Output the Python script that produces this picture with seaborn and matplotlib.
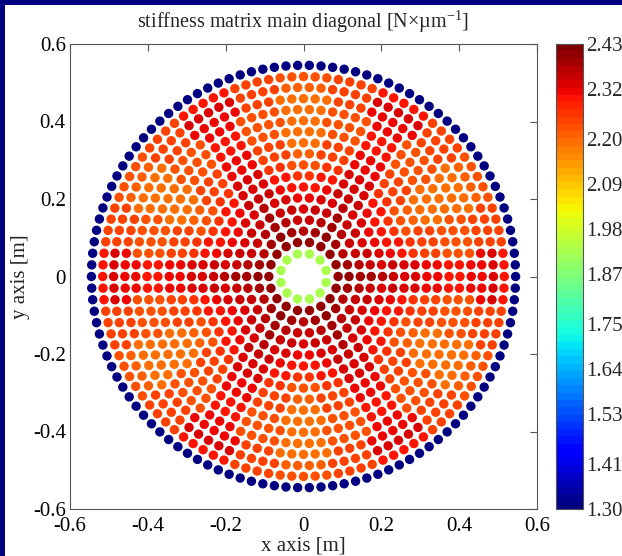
import numpy as np
import pandas as pd
import matplotlib
matplotlib.use("Agg")
import matplotlib.pyplot as plt
import seaborn as sns
from matplotlib.colors import Normalize
from matplotlib.cm import ScalarMappable
from matplotlib.patches import Rectangle

# ---- data ----
ring_radius = [0.060, 0.089, 0.117, 0.146, 0.174, 0.203, 0.231, 0.260, 0.288,
               0.317, 0.345, 0.374, 0.402, 0.431, 0.459, 0.488, 0.516, 0.545]
ring_count = [12, 18, 24, 30, 36, 42, 48, 54, 60, 66, 72, 78, 84, 90, 96, 102, 108, 114]
ring_offset_deg = [15] + [0] * 17
# stiffness value per ring on the six spokes (0, 60, 120 ... deg), next to them, and between them
spoke_value = [1.93, 2.41, 2.40, 2.39, 2.38, 2.37, 2.35, 2.34, 2.33,
               2.32, 2.31, 2.30, 2.30, 2.31, 2.32, 2.33, 2.29, 1.30]
mid_value = [1.93, 2.40, 2.38, 2.37, 2.35, 2.33, 2.31, 2.29, 2.27,
             2.25, 2.24, 2.23, 2.23, 2.23, 2.24, 2.25, 2.25, 1.30]
gap_value = [1.93, 2.38, 2.37, 2.35, 2.33, 2.31, 2.29, 2.26, 2.23,
             2.21, 2.20, 2.20, 2.20, 2.20, 2.20, 2.21, 2.22, 1.30]
sector_kind = ["spoke", "mid", "gap", "mid"] * 6   # 24 sectors of 15 deg

cbar_ticks = [1.30, 1.41, 1.53, 1.64, 1.75, 1.87, 1.98, 2.09, 2.20, 2.32, 2.43]
axis_ticks = [-0.6, -0.4, -0.2, 0, 0.2, 0.4, 0.6]
axis_ticklabels = ["-0.6", "-0.4", "-0.2", "0", "0.2", "0.4", "0.6"]
vmin, vmax = 1.30, 2.43

# ---- build the point table ----
rows = []
for k, (r, n, off) in enumerate(zip(ring_radius, ring_count, ring_offset_deg)):
    lookup = {"spoke": spoke_value[k], "mid": mid_value[k], "gap": gap_value[k]}
    for i in range(n):
        ang = off + 360.0 * i / n
        sec = int(np.round(ang / 15.0)) % 24
        rows.append({"x": r * np.cos(np.radians(ang)),
                     "y": r * np.sin(np.radians(ang)),
                     "k": lookup[sector_kind[sec]]})
df = pd.DataFrame(rows)

# ---- style ----
sns.set_style("white")
plt.rcParams["font.family"] = ["Liberation Serif", "DejaVu Serif"]
plt.rcParams["mathtext.fontset"] = "custom"
plt.rcParams["mathtext.rm"] = "Liberation Serif"
plt.rcParams["mathtext.it"] = "Liberation Serif:italic"
plt.rcParams["axes.unicode_minus"] = False

cmap = plt.get_cmap("jet", 64)
norm = Normalize(vmin=vmin, vmax=vmax)

W, H = 622, 556
fig = plt.figure(figsize=(W / 100, H / 100), dpi=100)
fig.patch.set_facecolor("white")
ax = fig.add_axes([70 / W, 1 - 509 / H, 467 / W, 465 / H])

sns.scatterplot(data=df, x="x", y="y", hue="k", palette=cmap, hue_norm=norm,
                s=46, linewidth=0, legend=False, ax=ax)

ax.set_xlim(-0.6, 0.6)
ax.set_ylim(-0.6, 0.6)
ax.set_xticks(axis_ticks)
ax.set_xticklabels(axis_ticklabels)
ax.set_yticks(axis_ticks)
ax.set_yticklabels(axis_ticklabels)
ax.tick_params(axis="both", direction="in", length=5, width=0.8, color="#555555",
               top=True, right=True, labelsize=15, labelcolor="black")
ax.tick_params(axis="x", pad=6)
ax.tick_params(axis="y", pad=3)
for sp in ax.spines.values():
    sp.set_color("#555555")
    sp.set_linewidth(0.8)
ax.set_xlabel("x axis [m]", fontsize=15, labelpad=0)
ax.set_ylabel("y axis [m]", fontsize=15, labelpad=2)
ax.set_title("stiffness matrix main diagonal [N\u00d7\u00b5m$^{\\mathrm{-1}}$]", fontsize=14.5, pad=12)

# colorbar
cax = fig.add_axes([556 / W, 1 - 509 / H, 27 / W, 465 / H])
sm = ScalarMappable(norm=norm, cmap=cmap)
cb = fig.colorbar(sm, cax=cax, ticks=cbar_ticks)
cb.ax.set_yticklabels([f"{t:.2f}" for t in cbar_ticks])
cb.outline.set_edgecolor("#555555")
cb.outline.set_linewidth(0.8)
cb.ax.tick_params(direction="in", length=4, width=0.8, color="#555555",
                  left=True, right=True, labelsize=15, pad=2)

# navy slide border (top and left)
fig.patches.append(Rectangle((0, 1 - 5 / H), 1, 5 / H, transform=fig.transFigure,
                             facecolor="#000080", edgecolor="none", zorder=10))
fig.patches.append(Rectangle((0, 0), 5 / W, 1, transform=fig.transFigure,
                             facecolor="#000080", edgecolor="none", zorder=10))

fig.savefig("out.png", dpi=100)
